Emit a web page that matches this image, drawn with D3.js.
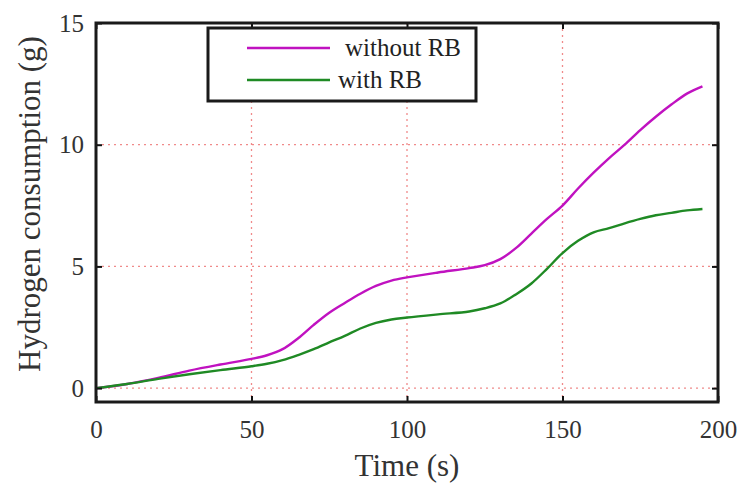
<!DOCTYPE html>
<html>
<head>
<meta charset="utf-8">
<script src="https://cdn.jsdelivr.net/npm/d3@7"></script>
<style>
  body { margin: 0; background: #fff; }
  svg { display: block; font-family: "Liberation Serif", "Times New Roman", serif; }
</style>
</head>
<body>
<svg id="chart" width="742" height="487"></svg>
<script>
// time (s)
var timeA = [0, 10, 20, 30, 40, 50, 55, 60, 65, 70, 75, 80, 85, 90, 95, 100, 110, 120, 125, 130,
             135, 140, 145, 150, 155, 160, 165, 170, 175, 180, 185, 190, 195];
// hydrogen (g) without regenerative braking
var withoutRB = [0, 0.17, 0.42, 0.72, 0.97, 1.2, 1.35, 1.6, 2.05, 2.6, 3.1, 3.5, 3.88, 4.2, 4.42, 4.55, 4.75, 4.93, 5.05, 5.3,
                 5.75, 6.35, 6.95, 7.5, 8.2, 8.85, 9.45, 10.0, 10.6, 11.15, 11.65, 12.1, 12.4];
// hydrogen (g) with regenerative braking
var withRB = [0, 0.17, 0.38, 0.57, 0.74, 0.9, 1.0, 1.15, 1.36, 1.6, 1.88, 2.15, 2.45, 2.68, 2.82, 2.9, 3.03, 3.15, 3.28, 3.48,
              3.85, 4.3, 4.9, 5.55, 6.05, 6.4, 6.57, 6.77, 6.95, 7.1, 7.2, 7.3, 7.36];
var xTicks = [0, 50, 100, 150, 200];
var yTicks = [0, 5, 10, 15];
var seriesNames = ['without RB', 'with RB'];
var seriesColors = ['#c012c0', '#1f8a24'];

var svg = d3.select('#chart');
var pLeft = 96, pRight = 718, pTop = 23, pBottom = 402;

var x = d3.scaleLinear().domain([0, 200]).range([pLeft, pRight]);
var y = d3.scaleLinear().domain([-0.57, 15]).range([pBottom, pTop]);

// grid
var grid = svg.append('g').attr('class', 'grid')
    .attr('stroke', '#f08a8a').attr('stroke-width', 1.3)
    .attr('stroke-dasharray', '2,4');
grid.selectAll('line.v').data(xTicks.slice(1, -1)).enter().append('line')
    .attr('class', 'v')
    .attr('x1', x).attr('x2', x)
    .attr('y1', pTop).attr('y2', pBottom);
grid.selectAll('line.h').data(yTicks.slice(0, -1)).enter().append('line')
    .attr('class', 'h')
    .attr('x1', pLeft).attr('x2', pRight)
    .attr('y1', y).attr('y2', y);

// lines
var line = d3.line()
    .x(function(d) { return x(d[0]); })
    .y(function(d) { return y(d[1]); })
    .curve(d3.curveCatmullRom.alpha(0.5));

[withoutRB, withRB].forEach(function(vals, i) {
    svg.append('path')
        .datum(timeA.map(function(t, j) { return [t, vals[j]]; }))
        .attr('fill', 'none')
        .attr('stroke', seriesColors[i])
        .attr('stroke-width', 2.4)
        .attr('d', line);
});

// axes (ticks inside)
var ax = svg.append('g').attr('class', 'axes');
ax.append('g').attr('transform', 'translate(0,' + pBottom + ')')
    .call(d3.axisBottom(x).tickValues(xTicks).tickSize(-6).tickPadding(18));
ax.append('g').attr('transform', 'translate(0,' + pTop + ')')
    .call(d3.axisTop(x).tickValues(xTicks).tickSize(-6).tickFormat(''));
ax.append('g').attr('transform', 'translate(' + pLeft + ',0)')
    .call(d3.axisLeft(y).tickValues(yTicks).tickSize(-6).tickPadding(12));
ax.append('g').attr('transform', 'translate(' + pRight + ',0)')
    .call(d3.axisRight(y).tickValues(yTicks).tickSize(-6).tickFormat(''));
ax.selectAll('.domain').remove();
ax.selectAll('.tick line').attr('stroke', '#111').attr('stroke-width', 2);
ax.selectAll('.tick text')
    .attr('font-family', '"Liberation Serif", serif')
    .attr('font-size', 25)
    .attr('fill', '#333');

// frame
svg.append('rect')
    .attr('x', pLeft).attr('y', pTop)
    .attr('width', pRight - pLeft).attr('height', pBottom - pTop)
    .attr('fill', 'none').attr('stroke', '#1a1a1a').attr('stroke-width', 3);

// axis labels
svg.append('text')
    .attr('x', (pLeft + pRight) / 2).attr('y', 476)
    .attr('text-anchor', 'middle')
    .attr('font-size', 31).attr('fill', '#333')
    .text('Time (s)');
svg.append('text')
    .attr('transform', 'translate(40,' + 204 + ') rotate(-90)')
    .attr('text-anchor', 'middle')
    .attr('font-size', 31).attr('fill', '#333')
    .text('Hydrogen consumption (g)');

// legend
var lg = svg.append('g').attr('class', 'legend');
lg.append('rect')
    .attr('x', 208).attr('y', 28).attr('width', 268).attr('height', 73)
    .attr('fill', '#fff').attr('stroke', '#1a1a1a').attr('stroke-width', 3);
var ly = [48, 80], tx = [345, 338];
seriesNames.forEach(function(name, i) {
    lg.append('line')
        .attr('x1', 247).attr('x2', 330)
        .attr('y1', ly[i]).attr('y2', ly[i])
        .attr('stroke', seriesColors[i]).attr('stroke-width', 2.4);
    lg.append('text')
        .attr('x', tx[i]).attr('y', ly[i] + 8)
        .attr('font-size', 25).attr('fill', '#222')
        .text(name);
});
</script>
</body>
</html>
